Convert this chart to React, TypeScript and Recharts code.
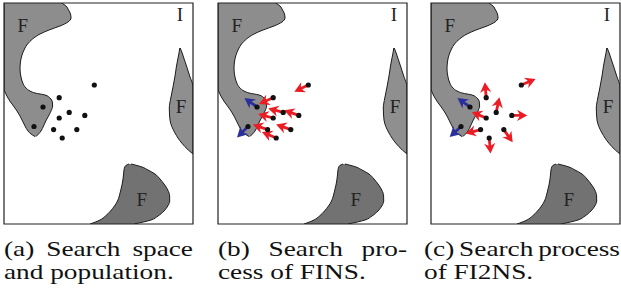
import { ComposedChart, Area, Scatter, XAxis, YAxis, ReferenceArea } from 'recharts';

// panel coordinate space (one unit ~ one pixel), y grows downward
const W = 189;
const H = 221;

// regions marked F: x-span covered at each height y
const leftRegion = [
    { y: 0, x: [0, 57.7] }, { y: 3, x: [0, 62] }, { y: 7, x: [0, 64.5] }, { y: 11, x: [0, 66.5] },
    { y: 15, x: [0, 67] }, { y: 19, x: [0, 64] }, { y: 23, x: [0, 56] }, { y: 27, x: [0, 45] },
    { y: 31, x: [0, 36] }, { y: 36, x: [0, 28.5] }, { y: 41, x: [0, 23.5] }, { y: 46, x: [0, 20.5] },
    { y: 52, x: [0, 18] }, { y: 58, x: [0, 16.6] }, { y: 66, x: [0, 16] }, { y: 74, x: [0, 17] },
    { y: 80, x: [0, 18.8] }, { y: 85, x: [0, 22] }, { y: 88, x: [0.5, 26] }, { y: 90, x: [1.5, 31] },
    { y: 92, x: [2.3, 41] }, { y: 95, x: [4, 46] }, { y: 99, x: [6.5, 48.3] }, { y: 103, x: [9.5, 48.6] },
    { y: 108, x: [13, 47] }, { y: 113, x: [16, 44.5] }, { y: 118, x: [18.5, 41.8] }, { y: 123, x: [21, 39.5] },
    { y: 128, x: [24, 37] }, { y: 131, x: [27, 34.5] }, { y: 133.5, x: [31, 32] },
];

const rightRegion = [
    { y: 45, x: [175.8, 176.2] }, { y: 50, x: [175, 178.2] }, { y: 55, x: [174, 179.8] },
    { y: 63, x: [172.5, 182.5] }, { y: 73, x: [171, 185.7] }, { y: 84, x: [169, 189] },
    { y: 95, x: [166.8, 189] }, { y: 105, x: [165.3, 189] }, { y: 117, x: [166, 189] },
    { y: 130, x: [171, 189] }, { y: 140, x: [177.7, 189] }, { y: 147, x: [184.3, 189] },
    { y: 151, x: [189, 189] },
];

const bottomRegion = [
    { y: 161, x: [125, 127] }, { y: 162.5, x: [121.8, 133] }, { y: 164, x: [120.8, 138] },
    { y: 167, x: [120, 144] }, { y: 171, x: [119.6, 151] }, { y: 176, x: [119, 156] },
    { y: 181, x: [118.2, 160] }, { y: 187, x: [116.8, 163.8] }, { y: 193, x: [115.3, 165.6] },
    { y: 198, x: [113.5, 165.7] }, { y: 203, x: [110.5, 163.8] }, { y: 208, x: [106.5, 160] },
    { y: 213, x: [101.5, 154] }, { y: 217, x: [96, 147] }, { y: 221, x: [86, 130] },
];

const population = [
    { x: 90.3, y: 82 }, { x: 55.2, y: 94.7 }, { x: 39, y: 104 }, { x: 65.2, y: 109.4 },
    { x: 55.2, y: 115 }, { x: 80.8, y: 112.4 }, { x: 30, y: 123.5 }, { x: 49.6, y: 126.6 },
    { x: 72.8, y: 126.6 }, { x: 58.2, y: 135 },
];
const inRegionF = [false, false, true, false, false, false, true, false, false, false];

// move directions in degrees (screen coords, clockwise from +x)
const finsAngles = [154, 156, -144, 195, 195, 199, 135, 199, 199, 203];
const fi2nsAngles = [-23, -95, -144, -78, -158, 0, 137, 165, 55, 85];

const regionLabels = [
    { x: 18.7, y: 22.7, text: 'F' },
    { x: 177, y: 103.4, text: 'F' },
    { x: 137.7, y: 196.7, text: 'F' },
    { x: 176, y: 11.7, text: 'I' },
];

const captions = [
    ['(a) Search space', 'and population.'],
    ['(b) Search pro-', 'cess of FINS.'],
    ['(c) Search process', 'of FI2NS.'],
];

const Arrow = (props: any) => {
    const { cx, cy, payload } = props;
    const color = payload.inF ? '#2b2f9c' : '#ec1c24';
    return (
        <path
            transform={`translate(${cx},${cy}) rotate(${payload.angle})`}
            d="M0,-1.4 L7.6,-1.4 L5.2,-5.6 L15.5,0 L5.2,5.6 L7.6,1.4 L0,1.4 Z"
            fill={color}
        />
    );
};

const Dot = (props: any) => <circle cx={props.cx} cy={props.cy} r={2.6} fill="#111" />;

const Label = (props: any) => (
    <text
        x={props.cx}
        y={props.cy}
        textAnchor="middle"
        dominantBaseline="central"
        fontFamily='"Liberation Serif", serif'
        fontSize={19}
        fill="#222"
    >
        {props.payload.text}
    </text>
);

function Panel({ left, angles }: { left: number; angles?: number[] }) {
    const moves = angles ? population.map((p, i) => ({ ...p, angle: angles[i], inF: inRegionF[i] })) : [];
    return (
        <div style={{ position: 'absolute', left, top: 2 }}>
            <ComposedChart width={191} height={223} layout="vertical" margin={{ top: 1, right: 1, bottom: 1, left: 1 }}>
                <XAxis type="number" dataKey="x" domain={[0, W]} hide allowDataOverflow />
                <YAxis type="number" dataKey="y" domain={[0, H]} hide allowDataOverflow />
                <Area data={leftRegion} dataKey="x" type="monotone" fill="#8d8d8d" fillOpacity={1} stroke="#1c1c1c" strokeWidth={1} dot={false} activeDot={false} isAnimationActive={false} />
                <Area data={rightRegion} dataKey="x" type="monotone" fill="#8f8f8f" fillOpacity={1} stroke="#1c1c1c" strokeWidth={1} dot={false} activeDot={false} isAnimationActive={false} />
                <Area data={bottomRegion} dataKey="x" type="monotone" fill="#727272" fillOpacity={1} stroke="#1c1c1c" strokeWidth={1} dot={false} activeDot={false} isAnimationActive={false} />
                {angles && <Scatter data={moves} shape={Arrow} isAnimationActive={false} />}
                <Scatter data={population} shape={Dot} isAnimationActive={false} />
                <Scatter data={regionLabels} shape={Label} isAnimationActive={false} />
                <ReferenceArea x1={0} x2={W} y1={0} y2={H} fill="none" fillOpacity={0} stroke="#222" strokeWidth={1.2} />
            </ComposedChart>
        </div>
    );
}

const STRETCH = 1.24;

function Caption({ left, width, lines }: { left: number; width: number; lines: string[] }) {
    return (
        <div
            style={{
                position: 'absolute',
                left,
                top: 237,
                width: width / STRETCH,
                transform: `scaleX(${STRETCH})`,
                transformOrigin: 'left top',
                fontFamily: '"Liberation Serif", serif',
                fontSize: 22,
                lineHeight: '23px',
                color: '#111',
                whiteSpace: 'nowrap',
            }}
        >
            <div style={{ display: 'flex', justifyContent: 'space-between' }}>
                {lines[0].split(' ').map((w, i) => (
                    <span key={i}>{w}</span>
                ))}
            </div>
            <div>{lines[1]}</div>
        </div>
    );
}

export default function App() {
    return (
        <div style={{ position: 'absolute', left: 0, top: 0, width: 621, height: 288, background: '#fff', overflow: 'hidden' }}>
            <Panel left={3} />
            <Panel left={217} angles={finsAngles} />
            <Panel left={430} angles={fi2nsAngles} />
            <Caption left={4} width={189} lines={captions[0]} />
            <Caption left={218} width={189} lines={captions[1]} />
            <Caption left={424} width={196} lines={captions[2]} />
        </div>
    );
}
